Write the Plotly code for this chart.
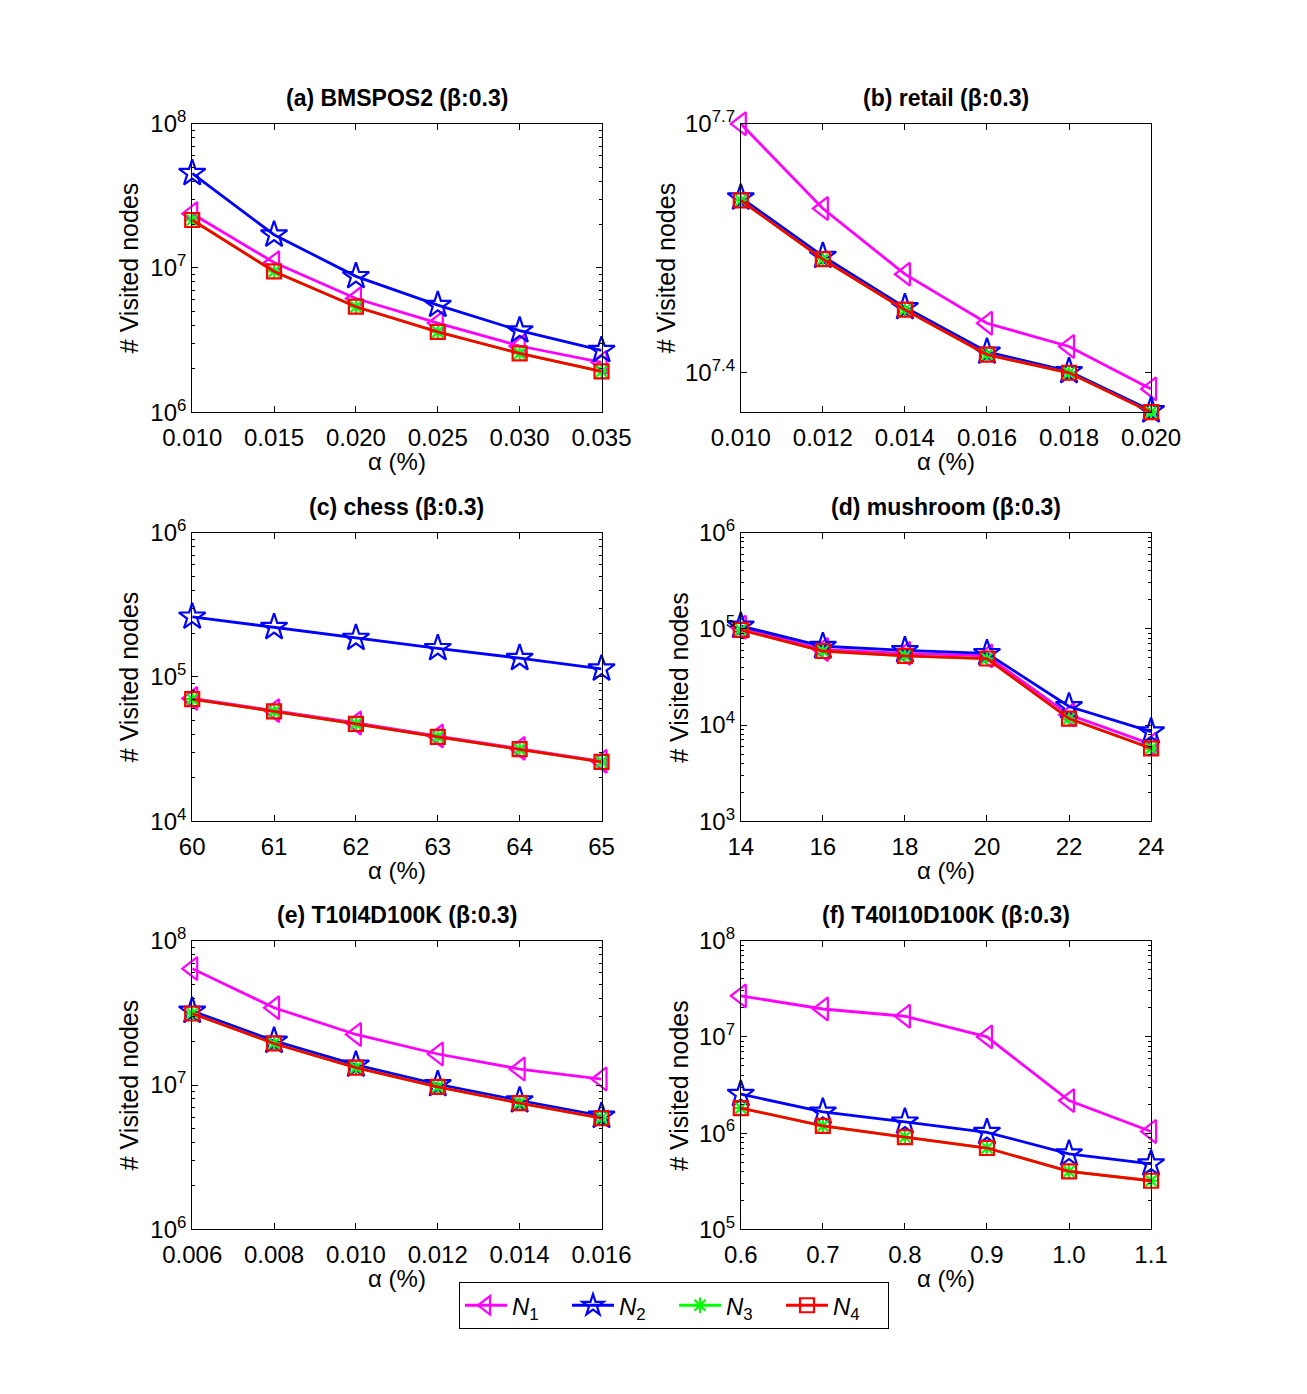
import plotly.graph_objects as go

# ---------------- data ----------------
a_x = [0.010, 0.015, 0.020, 0.025, 0.030, 0.035]
a_N1 = [2.38e7, 1.09e7, 6.14e6, 4.15e6, 2.88e6, 2.22e6]
a_N2 = [4.53e7, 1.70e7, 8.75e6, 5.53e6, 3.68e6, 2.69e6]
a_N3 = [2.15e7, 9.46e6, 5.39e6, 3.61e6, 2.56e6, 1.92e6]
a_N4 = [2.15e7, 9.46e6, 5.39e6, 3.61e6, 2.56e6, 1.92e6]

b_x = [0.010, 0.012, 0.014, 0.016, 0.018, 0.020]
b_N1 = [5.01e7, 3.96e7, 3.30e7, 2.88e7, 2.70e7, 2.40e7]
b_N2 = [4.08e7, 3.47e7, 3.01e7, 2.66e7, 2.52e7, 2.26e7]
b_N3 = [4.05e7, 3.44e7, 2.99e7, 2.64e7, 2.51e7, 2.25e7]
b_N4 = [4.05e7, 3.44e7, 2.99e7, 2.64e7, 2.51e7, 2.25e7]

c_x = [60, 61, 62, 63, 64, 65]
c_N1 = [7.1e4, 5.85e4, 4.8e4, 3.9e4, 3.2e4, 2.6e4]
c_N2 = [2.61e5, 2.21e5, 1.86e5, 1.58e5, 1.35e5, 1.14e5]
c_N3 = [7.03e4, 5.78e4, 4.74e4, 3.85e4, 3.16e4, 2.58e4]
c_N4 = [7.03e4, 5.78e4, 4.74e4, 3.85e4, 3.16e4, 2.58e4]

d_x = [14, 16, 18, 20, 22, 24]
d_N1 = [1.04e5, 6.1e4, 5.57e4, 5.24e4, 1.28e4, 6.35e3]
d_N2 = [1.07e5, 6.6e4, 5.97e4, 5.57e4, 1.56e4, 8.55e3]
d_N3 = [9.77e4, 5.89e4, 5.24e4, 4.92e4, 1.17e4, 5.74e3]
d_N4 = [9.77e4, 5.89e4, 5.24e4, 4.92e4, 1.17e4, 5.74e3]

e_x = [0.006, 0.008, 0.010, 0.012, 0.014, 0.016]
e_N1 = [6.4e7, 3.43e7, 2.24e7, 1.64e7, 1.29e7, 1.10e7]
e_N2 = [3.26e7, 2.02e7, 1.38e7, 1.01e7, 7.8e6, 6.1e6]
e_N3 = [3.13e7, 1.94e7, 1.32e7, 9.7e6, 7.5e6, 5.9e6]
e_N4 = [3.13e7, 1.94e7, 1.32e7, 9.7e6, 7.5e6, 5.9e6]

f_x = [0.6, 0.7, 0.8, 0.9, 1.0, 1.1]
f_N1 = [2.67e7, 1.95e7, 1.64e7, 1.0e7, 2.18e6, 1.04e6]
f_N2 = [2.54e6, 1.66e6, 1.31e6, 1.02e6, 6.1e5, 4.8e5]
f_N3 = [1.82e6, 1.19e6, 9.1e5, 7.0e5, 4.0e5, 3.2e5]
f_N4 = [1.82e6, 1.19e6, 9.1e5, 7.0e5, 4.0e5, 3.2e5]

titles = ["(a) BMSPOS2 (β:0.3)", "(b) retail (β:0.3)", "(c) chess (β:0.3)",
          "(d) mushroom (β:0.3)", "(e) T10I4D100K (β:0.3)", "(f) T40I10D100K (β:0.3)"]
series_names = ["<i>N</i><sub>1</sub>", "<i>N</i><sub>2</sub>",
                "<i>N</i><sub>3</sub>", "<i>N</i><sub>4</sub>"]

panels = [
    dict(x=a_x, ys=[a_N1, a_N2, a_N3, a_N4], yr=[6, 8], yt=[6, 7, 8], xfmt=".3f"),
    dict(x=b_x, ys=[b_N1, b_N2, b_N3, b_N4], yr=[7.352, 7.7], yt=[7.4, 7.7], xfmt=".3f"),
    dict(x=c_x, ys=[c_N1, c_N2, c_N3, c_N4], yr=[4, 6], yt=[4, 5, 6], xfmt="d"),
    dict(x=d_x, ys=[d_N1, d_N2, d_N3, d_N4], yr=[3, 6], yt=[3, 4, 5, 6], xfmt="d"),
    dict(x=e_x, ys=[e_N1, e_N2, e_N3, e_N4], yr=[6, 8], yt=[6, 7, 8], xfmt=".3f"),
    dict(x=f_x, ys=[f_N1, f_N2, f_N3, f_N4], yr=[5, 8], yt=[5, 6, 7, 8], xfmt=".1f"),
]

# ---------------- styling ----------------
W, H = 1307, 1394
FONT = "Liberation Sans, Arial, Helvetica, sans-serif"
colors = ["#ff00ff", "#0000ff", "#00ff00", "#ff0000"]
symbols = ["triangle-left-open", "star-open", "asterisk-open", "square-open"]
msizes = [20, 20, 13, 14]

col_px = [(170, 599), (745, 1175)]
row_px = [(109, 404), (527, 822), (944, 1239)]
ylab_x = [104, 667, 680, 680]

fig = go.Figure()
annotations = []

for i, p in enumerate(panels):
    r, c = divmod(i, 2)
    ax = "" if i == 0 else str(i + 1)
    xd = [col_px[c][0] / W, col_px[c][1] / W]
    yd = [1 - row_px[r][1] / H, 1 - row_px[r][0] / H]
    for k in range(4):
        fig.add_trace(go.Scatter(
            x=p["x"], y=p["ys"][k], mode="lines+markers",
            name=series_names[k], legendgroup=str(k), showlegend=(i == 0),
            line=dict(color=colors[k], width=2.8),
            marker=dict(symbol=symbols[k], size=msizes[k], color=colors[k],
                        line=dict(color=colors[k], width=2.2)),
            cliponaxis=False,
            xaxis="x" + ax, yaxis="y" + ax))
    # minor log ticks
    minor_vals = []
    lo, hi = p["yr"]
    for dec in range(int(lo) - 1, int(hi) + 1):
        for m in range(2, 10):
            v = m * 10 ** dec
            if 10 ** lo < v < 10 ** hi:
                minor_vals.append(v)
    if i == 1:
        minor_vals = []
    yt_text = ["10<sup>%s</sup>" % ("%g" % t) for t in p["yt"]]
    fig.layout["xaxis" + ax] = dict(
        domain=xd, anchor="y" + ax, range=[p["x"][0], p["x"][-1]],
        tickmode="array", tickvals=p["x"],
        ticktext=[format(v, p["xfmt"]) for v in p["x"]],
        ticks="inside", ticklen=6, tickcolor="black", tickwidth=1,
        ticklabelstandoff=4,
        showline=True, linecolor="black", linewidth=1, mirror="ticks",
        showgrid=False, zeroline=False,
        tickfont=dict(family=FONT, size=24, color="black"))
    fig.layout["yaxis" + ax] = dict(
        domain=yd, anchor="x" + ax, type="log", range=p["yr"],
        tickmode="array", tickvals=[10 ** t for t in p["yt"]], ticktext=yt_text,
        ticks="inside", ticklen=6, tickcolor="black", tickwidth=1,
        minor=dict(tickmode="array", tickvals=minor_vals, ticks="inside",
                   ticklen=3, tickcolor="black", showgrid=False),
        showline=True, linecolor="black", linewidth=1, mirror="ticks",
        showgrid=False, zeroline=False,
        tickfont=dict(family=FONT, size=24, color="black"))
    # title
    xc = (col_px[c][0] + col_px[c][1]) / 2 / W
    annotations.append(dict(
        text="<b>" + titles[i] + "</b>", xref="paper", yref="paper",
        x=xc, y=1 - (row_px[r][0] - 26) / H, xanchor="center", yanchor="middle",
        showarrow=False, font=dict(family=FONT, size=23, color="black")))
    # x label
    annotations.append(dict(
        text="α (%)", xref="paper", yref="paper",
        x=xc, y=1 - (row_px[r][1] + 50) / H, xanchor="center", yanchor="middle",
        showarrow=False, font=dict(family=FONT, size=24, color="black")))
    # y label
    yl = ylab_x[0] if c == 0 else ylab_x[1 + r]
    annotations.append(dict(
        text="# Visited nodes", xref="paper", yref="paper", textangle=-90,
        x=yl / W, y=1 - (row_px[r][0] + row_px[r][1]) / 2 / H,
        xanchor="center", yanchor="middle",
        showarrow=False, font=dict(family=FONT, size=25, color="black")))

fig.update_layout(
    width=W, height=H,
    margin=dict(l=0, r=0, t=0, b=0),
    paper_bgcolor="white", plot_bgcolor="white",
    annotations=annotations,
    legend=dict(orientation="h", x=675 / W, xanchor="center",
                y=1 - 1293 / H, yanchor="top",
                bgcolor="white", bordercolor="black", borderwidth=1,
                font=dict(family=FONT, size=24, color="black"),
                itemwidth=42, entrywidth=50, traceorder="normal"),
)

fig.write_html("out.html",
               post_script="document.body.style.margin='0';")
